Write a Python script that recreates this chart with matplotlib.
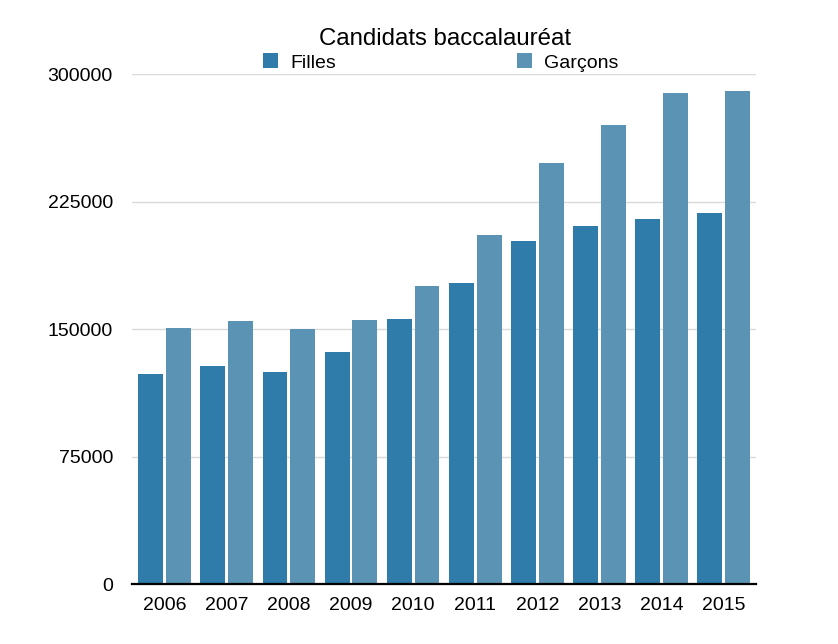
import numpy as np
import matplotlib
matplotlib.use("Agg")
import matplotlib.pyplot as plt
from matplotlib.patches import Patch

plt.rcParams['font.family'] = ['Liberation Sans', 'DejaVu Sans']

years = ['2006', '2007', '2008', '2009', '2010', '2011', '2012', '2013', '2014', '2015']
filles = [123800, 128000, 125000, 136800, 155700, 177000, 201800, 210800, 214800, 218300]
garcons = [150400, 154500, 149800, 155100, 175400, 205300, 247900, 270300, 288600, 289800]

c_f = '#2f7baa'
c_g = '#5a93b4'

fig = plt.figure(figsize=(8.38, 6.44), dpi=100)
ax = fig.add_axes([0.158, 0.093, 0.744, 0.792])

x = np.arange(len(years))
w = 0.40
off = (w + 0.048) / 2
ax.bar(x - off, filles, w, color=c_f, zorder=3)
ax.bar(x + off, garcons, w, color=c_g, zorder=3)

ax.set_ylim(0, 300000)
ax.set_xlim(-0.52, len(years) - 1 + 0.52)
ax.set_yticks([0, 75000, 150000, 225000, 300000])
ax.set_yticklabels(['0', '75000', '150000', '225000', '300000'])
ax.set_xticks(x)
ax.set_xticklabels(years)
ax.tick_params(axis='both', length=0, labelsize=14, pad=9)
ax.tick_params(axis='y', pad=14)
ax.yaxis.grid(True, color='#d9d9d9', linewidth=1)
ax.set_axisbelow(True)
for s in ['top', 'right', 'left']:
    ax.spines[s].set_visible(False)
ax.spines['bottom'].set_linewidth(1.6)
ax.spines['bottom'].set_color('black')
ax.spines['bottom'].set_zorder(4)

fig.text(0.531, 0.939, 'Candidats baccalauréat', ha='center', va='center', fontsize=17.3)
handles = [Patch(facecolor=c_f), Patch(facecolor=c_g)]
fig.legend(handles, ['Filles', 'Garçons'], ncol=2, loc='center left',
           bbox_to_anchor=(0.302, 0.903), frameon=False, fontsize=14,
           handlelength=0.8, handleheight=0.8, handletextpad=0.6,
           columnspacing=9.3, borderpad=0)

fig.savefig('out.png', dpi=100)
